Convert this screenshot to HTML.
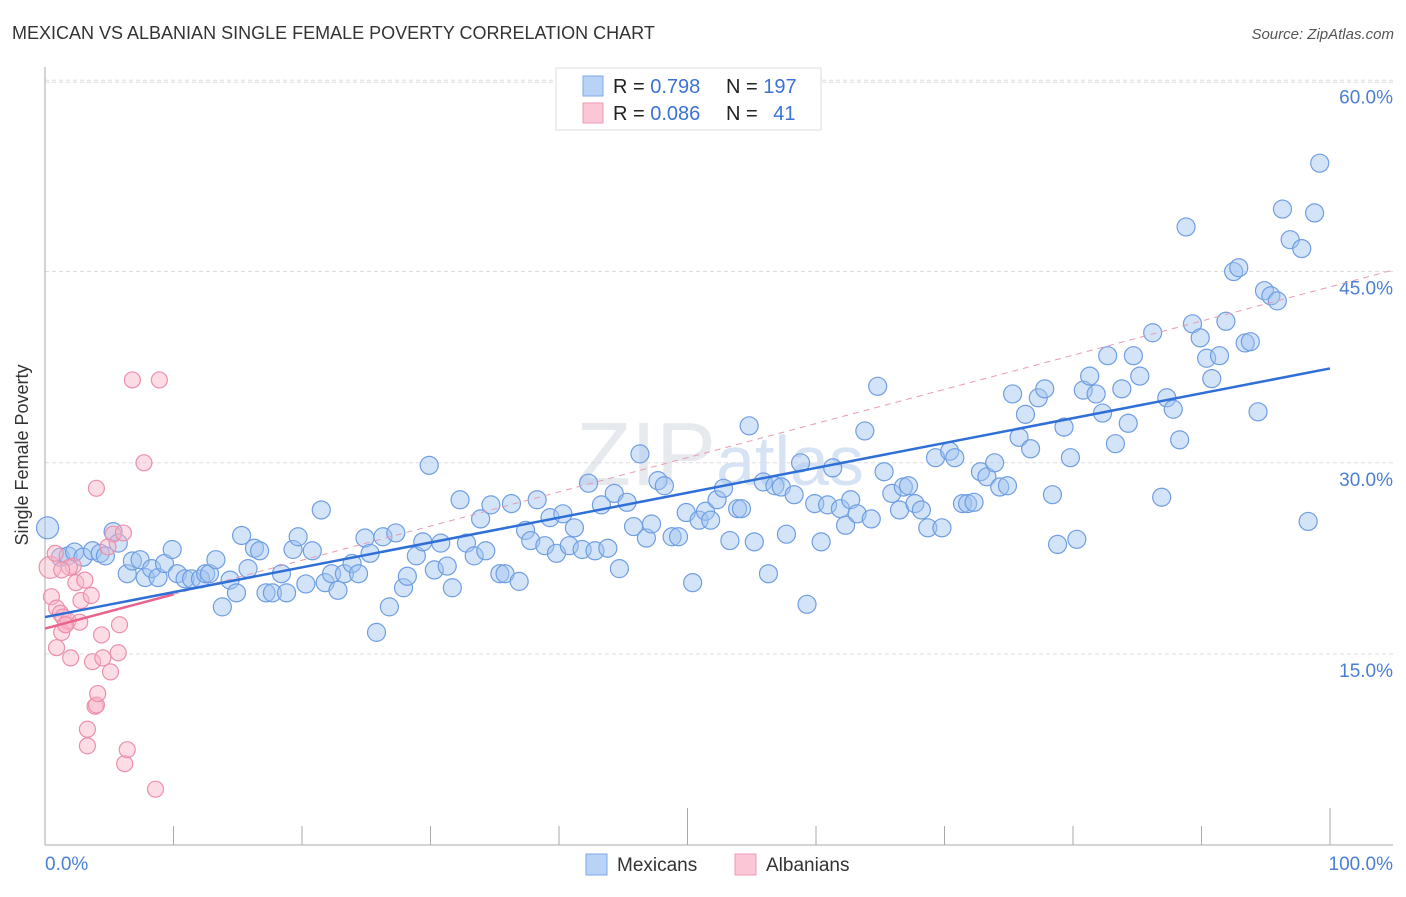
<!DOCTYPE html>
<html><head><meta charset="utf-8"><style>
body{margin:0;background:#fff;font-family:"Liberation Sans",sans-serif}
svg text{font-family:"Liberation Sans",sans-serif}
</style></head><body>
<svg id="chart" width="1406" height="892" xmlns="http://www.w3.org/2000/svg">
<text x="12" y="39" font-size="18" fill="#333">MEXICAN VS ALBANIAN SINGLE FEMALE POVERTY CORRELATION CHART</text>
<text x="1394" y="39" font-size="15" fill="#555" font-style="italic" text-anchor="end">Source: ZipAtlas.com</text>
<text x="720" y="485" font-size="90" fill="#e6e9ee" text-anchor="middle" font-family="Liberation Serif">ZIP<tspan font-family="Liberation Sans" font-size="70" fill="#d5e3f5">atlas</tspan></text>
<g id="grid"></g>
<g id="axes"></g>
<g id="pts"></g>
<g id="lines"></g>
<text x="28" y="455" font-size="18" fill="#333" text-anchor="middle" transform="rotate(-90 28 455)">Single Female Poverty</text>
<g>
<rect x="556" y="68" width="265" height="62" fill="#fff" stroke="#ddd"/>
<rect x="583" y="76" width="20" height="20" fill="#b8d3f6" stroke="#7ea8e6"/>
<rect x="583" y="103" width="20" height="20" fill="#fbc6d5" stroke="#ee9ab3"/>
<text x="613" y="93" font-size="20" fill="#222">R = <tspan fill="#3b73d4">0.798</tspan></text>
<text x="726" y="93" font-size="20" fill="#222">N = <tspan fill="#3b73d4">197</tspan></text>
<text x="613" y="120" font-size="20" fill="#222">R = <tspan fill="#3b73d4">0.086</tspan></text>
<text x="726" y="120" font-size="20" fill="#222">N = <tspan fill="#3b73d4" dx="10">41</tspan></text>
</g>
<g>
<rect x="586" y="854" width="21" height="21" fill="#b8d3f6" stroke="#7ea8e6"/>
<text x="617" y="871" font-size="19" fill="#333">Mexicans</text>
<rect x="735" y="854" width="21" height="21" fill="#fbc6d5" stroke="#ee9ab3"/>
<text x="766" y="871" font-size="19" fill="#333">Albanians</text>
</g>
</svg>
<script>
const yTicks=[15,30,45,60];
const yTickLabels=["15.0%","30.0%","45.0%","60.0%"];
const xEndLabels=["0.0%","100.0%"];
const mexX=[0.2,1.2,1.8,2.3,2.96,3.7,4.3,4.7,5.3,5.7,6.4,6.8,7.4,7.8,8.3,8.8,9.3,9.9,10.3,10.9,11.4,12.1,12.5,12.8,13.3,13.8,14.4,14.9,15.3,15.8,16.3,16.7,17.2,17.7,18.4,18.8,19.3,19.7,20.3,20.8,21.5,21.8,22.3,22.8,23.3,23.9,24.4,24.9,25.3,25.8,26.3,26.8,27.3,27.9,28.2,28.9,29.4,29.9,30.3,30.8,31.3,31.7,32.3,32.8,33.4,33.9,34.3,34.7,35.4,35.8,36.3,36.9,37.4,37.8,38.3,38.9,39.3,39.8,40.3,40.8,41.2,41.8,42.3,42.8,43.3,43.8,44.3,44.7,45.3,45.8,46.3,46.8,47.2,47.7,48.2,48.8,49.3,49.9,50.4,50.9,51.4,51.8,52.3,52.8,53.3,53.9,54.2,54.8,55.2,55.9,56.3,56.8,57.3,57.7,58.3,58.8,59.3,59.9,60.4,60.9,61.3,61.9,62.3,62.7,63.2,63.8,64.3,64.8,65.3,65.9,66.5,66.8,67.2,67.7,68.2,68.7,69.3,69.8,70.4,70.8,71.4,71.8,72.3,72.8,73.3,73.9,74.3,74.9,75.3,75.8,76.3,76.7,77.3,77.8,78.4,78.8,79.3,79.8,80.3,80.8,81.3,81.8,82.3,82.7,83.3,83.8,84.3,84.7,85.2,86.2,86.9,87.3,87.8,88.3,88.8,89.3,89.9,90.4,90.8,91.4,91.9,92.5,92.9,93.4,93.8,94.4,94.9,95.4,95.9,96.3,96.9,97.8,98.3,98.8,99.2];
const mexY=[24.9,22.6,22.7,23.0,22.6,23.1,22.9,22.7,24.6,23.7,21.3,22.3,22.4,21.0,21.7,21.0,22.1,23.2,21.3,20.9,20.9,20.9,21.3,21.3,22.4,18.7,20.8,19.8,24.3,21.7,23.3,23.1,19.8,19.8,21.3,19.8,23.2,24.2,20.5,23.1,26.3,20.6,21.3,20.0,21.3,22.1,21.3,24.1,22.9,16.7,24.2,18.7,24.5,20.2,21.1,22.7,23.8,29.8,21.6,23.7,21.9,20.2,27.1,23.7,22.7,25.6,23.1,26.7,21.3,21.3,26.8,20.7,24.7,23.9,27.1,23.5,25.7,22.9,26.0,23.5,24.9,23.2,28.4,23.1,26.7,23.3,27.6,21.7,26.9,25.0,30.7,24.1,25.2,28.6,28.2,24.2,24.2,26.1,20.6,25.5,26.2,25.5,27.1,28.0,23.9,26.4,26.4,32.9,23.8,28.5,21.3,28.2,28.1,24.4,27.5,30.0,18.9,26.8,23.8,26.7,29.6,26.4,25.1,27.1,26.0,32.5,25.6,36.0,29.3,27.6,26.3,28.1,28.2,26.8,26.3,24.9,30.4,24.9,30.9,30.4,26.8,26.8,26.9,29.3,28.9,30.0,28.1,28.2,35.4,32.0,33.8,31.1,35.1,35.8,27.5,23.6,32.8,30.4,24.0,35.7,36.8,35.4,33.9,38.4,31.5,35.8,33.1,38.4,36.8,40.2,27.3,35.1,34.2,31.8,48.5,40.9,39.8,38.2,36.6,38.4,41.1,45.0,45.3,39.4,39.5,34.0,43.5,43.1,42.7,49.9,47.5,46.8,25.4,49.6,53.5];
const albX=[0.4,0.8,0.5,0.9,0.9,1.2,1.4,1.6,1.3,1.8,2.2,2.4,2.0,2.7,2.8,3.1,3.3,3.3,3.6,3.7,3.9,4.0,4.1,4.0,4.4,4.5,5.1,5.3,5.7,5.8,6.1,6.2,6.4,6.8,7.7,8.6,8.9,1.9,1.3,4.9,1.6];
const albY=[21.8,22.9,19.5,18.6,15.5,18.2,17.9,17.3,16.7,17.6,21.9,20.6,14.7,17.5,19.2,20.8,9.1,7.8,19.6,14.4,10.9,11.0,11.9,28.0,16.5,14.7,13.6,24.4,15.1,17.3,24.5,6.4,7.5,36.5,30.0,4.4,36.5,21.8,21.6,23.4,17.3];
const mexTrend=[17.9,37.4];
const albTrend=[17.0,0.268];

const X=v=>45+v*12.85, Y=v=>845.3-v*12.75;
const NS="http://www.w3.org/2000/svg";
function mk(tag,attrs,parent){const e=document.createElementNS(NS,tag);for(const k in attrs)e.setAttribute(k,attrs[k]);parent.appendChild(e);return e;}
const grid=document.getElementById('grid'),axes=document.getElementById('axes'),pts=document.getElementById('pts'),lines=document.getElementById('lines');
mk('line',{x1:45,x2:1393,y1:Y(60)+2,y2:Y(60)+2,stroke:'#ddd','stroke-dasharray':'4,3'},grid);
yTicks.forEach((t,i)=>{
 const l=mk('line',{x1:45,x2:1393,y1:Y(t),y2:Y(t),stroke:'#ddd','stroke-dasharray':'4,3'},grid);
 
 
 const tx=mk('text',{x:1393,y:Y(t)+23,'font-size':19,fill:'#4a7fd6','text-anchor':'end'},axes);
 tx.textContent=yTickLabels[i];
 
 
});
mk('line',{x1:45,x2:45,y1:67,y2:845,stroke:'#aaa'},axes);
mk('line',{x1:45,x2:1393,y1:845,y2:845,stroke:'#aaa'},axes);
for(let i=1;i<=10;i++){const t=mk('line',{x1:X(i*10),x2:X(i*10),y1:(i%5==0)?808:826,y2:845,stroke:'#aaa'},axes);
 
 }
const l0=mk('text',{x:45,y:870,'font-size':19,fill:'#4a7fd6'},axes);l0.textContent=xEndLabels[0];


const l1=mk('text',{x:1393,y:870,'font-size':19,fill:'#4a7fd6','text-anchor':'end'},axes);l1.textContent=xEndLabels[1];


mexX.forEach((x,i)=>{const c=mk('circle',{cx:X(x),cy:Y(mexY[i]),r:i==0?11:9,fill:'rgba(160,195,240,0.45)',stroke:'#6f9ee2','stroke-width':1.2},pts);
 
 });
albX.forEach((x,i)=>{const c=mk('circle',{cx:X(x),cy:Y(albY[i]),r:i==0?11:8,fill:'rgba(248,180,200,0.45)',stroke:'#ec8fab','stroke-width':1.2},pts);
 
 });
const a=mk('line',{x1:X(0),y1:Y(albTrend[0]),x2:X(104.9),y2:Y(albTrend[0]+albTrend[1]*104.9),stroke:'#e89ab2','stroke-width':1,'stroke-dasharray':'6,5'},lines);


const b=mk('line',{x1:X(0),y1:Y(albTrend[0]),x2:X(10),y2:Y(albTrend[0]+albTrend[1]*10),stroke:'#e8648c','stroke-width':2.5},lines);


const m=mk('line',{x1:X(0),y1:Y(mexTrend[0]),x2:X(100),y2:Y(mexTrend[1]),stroke:'#2f6fd6','stroke-width':2.5},lines);


</script>
</body></html>
